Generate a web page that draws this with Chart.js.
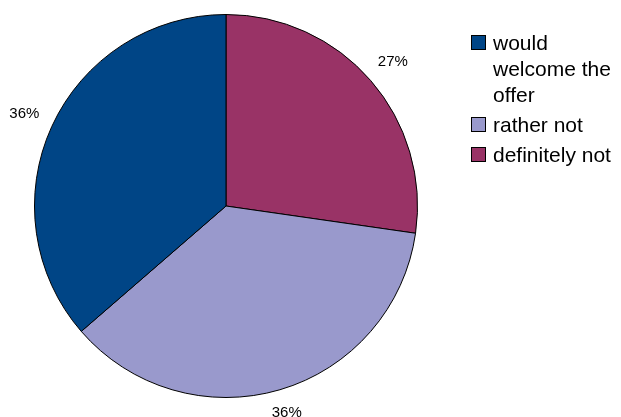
<!DOCTYPE html>
<html lang="en">
<head>
<meta charset="UTF-8">
<title>Offer response</title>
<script src="https://cdn.jsdelivr.net/npm/chart.js@4.4.0/dist/chart.umd.min.js"></script>
<style>
  html, body { margin: 0; padding: 0; background: #fff; }
  #wrap { position: relative; width: 621px; height: 417px; }
  #legend { position: absolute; left: 471px; top: 30px; font-family: "Liberation Sans", Arial, sans-serif; font-size: 21px; line-height: 26px; color: #000; }
  .item { display: flex; align-items: flex-start; margin-bottom: 4px; }
  .box { width: 13px; height: 13px; border: 1px solid #000; margin-top: 5px; margin-right: 7px; flex: none; }
  .txt { width: 128px; }
</style>
</head>
<body>
<div id="wrap">
  <canvas id="pie" width="621" height="417"></canvas>
  <div id="legend"></div>
</div>
<script>
// legend order; the pie is drawn clockwise from the top in reverse
const categories = ['would welcome the offer', 'rather not', 'definitely not'];
const values = [36, 36, 27];
const colors = ['#004586', '#9999CC', '#993366'];

const total = values.reduce((a, b) => a + b, 0);

// percentage labels outside each slice
const outsideLabels = {
  id: 'outsideLabels',
  afterDatasetsDraw(chart) {
    const ctx = chart.ctx;
    const meta = chart.getDatasetMeta(0);
    const ds = chart.data.datasets[0];
    ctx.save();
    ctx.font = '15px "Liberation Sans", Arial, sans-serif';
    ctx.fillStyle = '#000';
    ctx.textAlign = 'center';
    ctx.textBaseline = 'middle';
    meta.data.forEach((arc, i) => {
      const p = arc.getProps(['x', 'y', 'startAngle', 'endAngle', 'outerRadius'], true);
      const mid = (p.startAngle + p.endAngle) / 2;
      const dx = Math.cos(mid), dy = Math.sin(mid);
      const text = Math.round(ds.data[i] / total * 100) + '%';
      const w = ctx.measureText(text).width, h = 12;
      const r = p.outerRadius + 14 + Math.abs(dx) * w / 2 + Math.abs(dy) * h / 2;
      ctx.fillText(text, p.x + dx * r, p.y + dy * r);
    });
    ctx.restore();
  }
};

new Chart(document.getElementById('pie'), {
  type: 'pie',
  data: {
    labels: categories.slice().reverse(),
    datasets: [{
      data: values.slice().reverse(),
      backgroundColor: colors.slice().reverse(),
      borderColor: '#000',
      borderWidth: 1
    }]
  },
  options: {
    responsive: false,
    animation: false,
    layout: { padding: { left: 34, top: 14, right: 203, bottom: 19 } },
    plugins: {
      legend: { display: false },
      tooltip: { enabled: false }
    }
  },
  plugins: [outsideLabels]
});

const legend = document.getElementById('legend');
categories.forEach((c, i) => {
  const item = document.createElement('div');
  item.className = 'item';
  item.innerHTML = '<div class="box" style="background:' + colors[i] + '"></div><div class="txt">' + c + '</div>';
  legend.appendChild(item);
});
</script>
</body>
</html>
